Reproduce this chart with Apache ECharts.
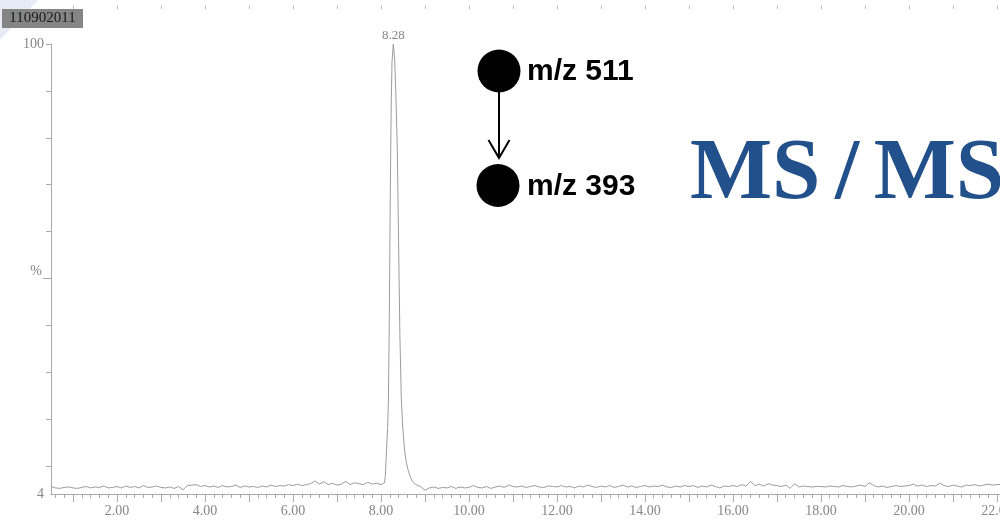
<!DOCTYPE html>
<html>
<head>
<meta charset="utf-8">
<script src="https://cdn.jsdelivr.net/npm/echarts@6/dist/echarts.min.js"></script>
<style>
  html, body { margin: 0; padding: 0; background: #fff; }
  #chart { width: 1000px; height: 520px; }
</style>
</head>
<body>
<div id="chart"></div>
<script>
// chromatogram trace, intensity in %
const scanStep = 0.1
const preStart = 0.5
const preNoise = [
  5.6, 5.3, 5.2, 5.4, 5.5, 5.3,
  5.2, 5.4, 5.6, 5.3, 5.5, 5.4, 5.7, 5.3, 5.4, 5.6,
  5.3, 5.7, 5.4, 5.6, 5.3, 5.8, 5.4, 5.5, 5.7, 5.4,
  5.3, 5.5, 5.2, 5.6, 4.9, 5.8, 5.9, 6.0, 5.6, 5.8,
  5.5, 5.7, 5.4, 5.8, 5.5, 5.6, 5.9, 5.4, 5.7, 5.5,
  5.6, 5.4, 5.7, 5.5, 5.9, 5.6, 5.8, 5.7, 6.0, 5.8,
  6.1, 5.8, 6.0, 6.2, 6.8, 6.1, 6.6, 6.0, 6.3, 5.9,
  6.1, 6.7, 6.0, 6.4, 6.2, 6.0, 6.5, 6.1, 6.3, 6.0
]
const peakTimes = [8.08, 8.10, 8.12, 8.15, 8.17, 8.19, 8.21, 8.23, 8.25, 8.28, 8.31, 8.34, 8.37, 8.40, 8.43, 8.46, 8.49, 8.53, 8.57, 8.62, 8.67, 8.72]
const peakValues = [6.4, 8, 12, 18, 24, 42, 66, 85, 96, 100, 97, 89, 78, 58, 38, 25, 19, 14, 11, 9, 7.6, 6.6]
const postStart = 8.8
const postNoise = [
  6.0, 5.6, 4.8,
  5.3, 5.5, 5.2, 5.4, 5.3, 5.6, 5.2, 5.5, 5.3, 5.4,
  5.8, 5.4, 5.3, 5.6, 5.2, 5.5, 5.7, 5.4, 5.9, 5.6,
  5.5, 5.7, 5.4, 5.6, 5.8, 5.5, 5.4, 5.7, 5.6, 5.5,
  5.8, 5.5, 5.6, 5.3, 5.7, 5.5, 5.9, 5.6, 5.4, 5.7,
  5.5, 5.8, 5.4, 5.6, 5.9, 5.5, 5.7, 5.4, 5.6, 5.8,
  5.5, 5.7, 5.6, 5.9, 5.5, 5.4, 5.7, 5.5, 5.8, 5.6,
  5.8, 5.4, 5.7, 5.5, 5.9, 5.6, 5.3, 5.7, 5.6, 5.8,
  5.6, 6.0, 5.7, 6.7, 5.8, 6.1, 5.7, 6.2, 5.9, 5.8,
  5.6, 5.9, 5.2, 6.2, 5.5, 5.7, 5.6, 5.5, 5.6, 5.6,
  5.5, 5.7, 5.6, 5.5, 5.8, 5.6, 5.5, 5.7, 5.9, 5.6,
  6.4, 5.8, 5.5, 5.7, 5.4, 5.6, 5.8, 5.6, 5.7, 5.8,
  6.1, 5.7, 5.9, 5.6, 5.8, 5.7, 6.3, 5.8, 5.6, 5.9,
  5.7, 5.5, 5.9, 5.8, 6.0, 5.7, 5.9, 6.1, 5.9, 6.0,
  6.1, 5.9, 6.0, 5.8, 6.0
]
const timeLabels = [2, 4, 6, 8, 10, 12, 14, 16, 18, 20, 22]
const intensityLabels = [4, 50, 100]
const intensityTicks = [10, 20, 30, 40, 50, 60, 70, 80, 90, 100]

const axisGrey = '#a9a9a9'
const textGrey = '#868686'
const serif = '"Liberation Serif", "Times New Roman", serif'

const round2 = v => Math.round(v * 100) / 100

// build the trace from the scans
const trace = []
preNoise.forEach((v, i) => trace.push([round2(preStart + i * scanStep), v]))
peakTimes.forEach((t, i) => trace.push([t, peakValues[i]]))
postNoise.forEach((v, i) => trace.push([round2(postStart + i * scanStep), v]))

const apexIdx = peakValues.indexOf(Math.max(...peakValues))
const apex = [peakTimes[apexIdx], peakValues[apexIdx]]

// tick positions along the time axis
const minuteTicks = []
const minorTicks = []
for (let m = 1; m <= 22; m++) minuteTicks.push(m)
for (let k = 3; k <= 110; k++) minorTicks.push(round2(k * 0.2))

const chart = echarts.init(document.getElementById('chart'), null, { renderer: 'canvas' })

// window ends a little past 22 min (trace continues off the slide)
const timeAxisBase = { type: 'value', min: 0.5, max: 22.07, splitLine: { show: false } }

chart.setOption({
  animation: false,
  backgroundColor: '#fff',
  grid: { left: 51, right: 0, top: 44, bottom: 26, outerBoundsMode: 'none', containLabel: false },
  xAxis: [
    Object.assign({}, timeAxisBase, {
      position: 'bottom',
      axisLine: { lineStyle: { color: axisGrey, width: 1 } },
      axisTick: { customValues: minorTicks, length: 4, lineStyle: { color: axisGrey } },
      axisLabel: {
        customValues: timeLabels,
        formatter: v => v.toFixed(2),
        color: textGrey, fontFamily: serif, fontSize: 14, margin: 10,
        showMaxLabel: true
      }
    }),
    Object.assign({}, timeAxisBase, {
      position: 'bottom',
      axisLine: { show: false },
      axisTick: { customValues: minuteTicks, length: 8, lineStyle: { color: axisGrey } },
      axisLabel: { show: false }
    }),
    Object.assign({}, timeAxisBase, {
      position: 'top',
      offset: 35,
      axisLine: { show: false },
      axisTick: { customValues: minuteTicks, length: 4, lineStyle: { color: '#bdbdbd' } },
      axisLabel: { show: false }
    })
  ],
  yAxis: [
    {
      type: 'value', min: 4, max: 100,
      splitLine: { show: false },
      axisLine: { show: true, lineStyle: { color: axisGrey, width: 1 } },
      axisTick: { show: true, customValues: intensityTicks, length: 5, lineStyle: { color: axisGrey } },
      axisLabel: {
        customValues: intensityLabels,
        formatter: v => (v === 50 ? '{pct|%}' : String(v)),
        color: textGrey, fontFamily: serif, fontSize: 14, margin: 7,
        rich: { pct: { color: textGrey, fontFamily: serif, fontSize: 14, padding: [0, 2, 14, 0] } }
      }
    },
    {
      type: 'value', min: 4, max: 100, position: 'left',
      splitLine: { show: false },
      axisLine: { show: false },
      axisTick: { show: true, customValues: [50], length: 8, lineStyle: { color: axisGrey } },
      axisLabel: { show: false }
    }
  ],
  series: [{
    type: 'line',
    data: trace,
    showSymbol: false,
    symbol: 'none',
    lineStyle: { color: '#9c9c9c', width: 1 },
    z: 3,
    markPoint: {
      symbol: 'circle',
      symbolSize: 0,
      data: [{ coord: apex, value: apex[0].toFixed(2) }],
      label: {
        show: true, position: 'top', distance: 2, formatter: '{c}',
        color: textGrey, fontFamily: serif, fontSize: 13
      }
    }
  }],
  graphic: [
    // slide background corner
    { type: 'polygon', shape: { points: [[0, 0], [38, 0], [0, 40]] }, style: { fill: '#e7ebf5' }, z: -1 },
    // sample id
    { type: 'rect', shape: { x: 2, y: 9, width: 81, height: 19 }, style: { fill: '#858585' } },
    { type: 'text', style: { text: '110902011', x: 42.5, y: 18.5, align: 'center', verticalAlign: 'middle', font: '15px ' + serif, fill: '#1a1a1a' } },
    // transition scheme
    { type: 'circle', shape: { cx: 499, cy: 71, r: 21.5 }, style: { fill: '#000' } },
    { type: 'circle', shape: { cx: 498, cy: 185.5, r: 21.5 }, style: { fill: '#000' } },
    { type: 'line', shape: { x1: 499, y1: 92, x2: 499, y2: 158 }, style: { stroke: '#000', lineWidth: 2 } },
    { type: 'polyline', shape: { points: [[488.5, 140], [499, 158], [509.5, 140]] }, style: { stroke: '#000', lineWidth: 2, fill: null } },
    { type: 'text', style: { text: 'm/z 511', x: 527, y: 72, verticalAlign: 'middle', font: 'bold 30px "Liberation Sans", Arial, sans-serif', fill: '#000' } },
    { type: 'text', style: { text: 'm/z 393', x: 527, y: 187, verticalAlign: 'middle', font: 'bold 30px "Liberation Sans", Arial, sans-serif', fill: '#000' } },
    { type: 'text', style: { text: 'MS\u2006/\u2006MS', x: 690, y: 176, verticalAlign: 'middle', font: 'bold 87px ' + serif, fill: '#22508a' } }
  ]
})
</script>
</body>
</html>
